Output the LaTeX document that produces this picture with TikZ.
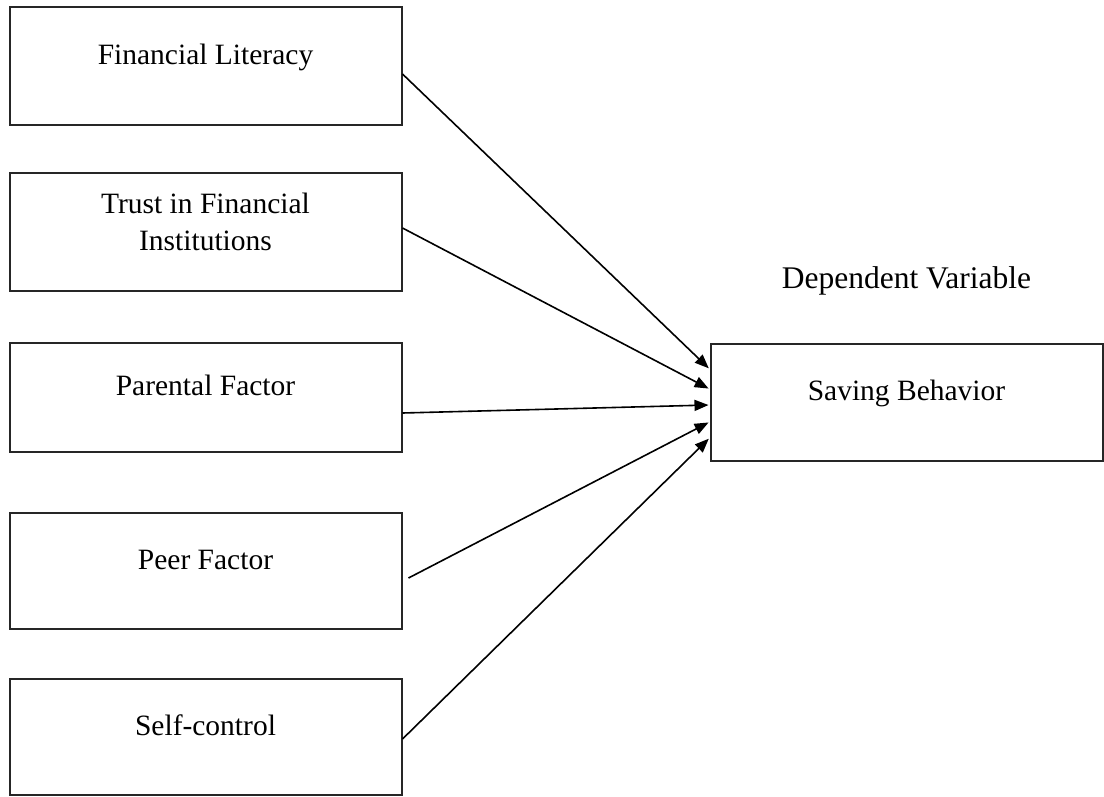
\documentclass[tikz,border=0pt]{standalone}
\usepackage{fontspec}
\setmainfont{Liberation Serif}
\usetikzlibrary{positioning}
\usetikzlibrary{arrows.meta}

\begin{document}
\begin{tikzpicture}[x=1pt,y=1pt,node distance=166pt,on grid,
   factor/.style={draw=black!85,line width=2pt,minimum width=392pt,minimum height=118pt,
     font=\fontsize{29.5}{37}\selectfont,text height=20pt,text depth=24pt,align=center},
   link/.style={->,>={Triangle[length=14pt,width=11pt]},line width=1.6pt,shorten >=1pt}]
   \useasboundingbox (0,0) rectangle (1104,-796);
   \node[factor] (fin) at (205.5,-66) {Financial Literacy};
   \node[factor,text height=57pt,text depth=21pt] (trust) [below=166pt of fin] {Trust in Financial\\Institutions};
   \node[factor,minimum height=109pt] (parent) [below=165.5pt of trust] {Parental Factor};
   \node[factor,minimum height=116pt] (peer) [below=173.5pt of parent] {Peer Factor};
   \node[factor,minimum height=116pt] (self) [below=166pt of peer] {Self-control};
   \node[factor,minimum height=117pt] (saving) [below right=5pt and 701pt of parent] {Saving Behavior};
   \node[font=\fontsize{31.5}{38}\selectfont,anchor=base] (dep) at ([yshift=114.5pt]saving.center) {Dependent Variable};
    \path[link]
    ([yshift=-8pt]fin.east) edge ([yshift=33.5pt]saving.west)
    ([yshift=4pt]trust.east) edge ([yshift=13.5pt]saving.west)
    ([yshift=-15.5pt]parent.east) edge ([yshift=-2.5pt]saving.west)
    ([xshift=6pt,yshift=-7pt]peer.east) edge ([yshift=-19.5pt]saving.west)
    ([yshift=-2pt]self.east) edge ([yshift=-35.5pt]saving.west);
\end{tikzpicture}
\end{document}
